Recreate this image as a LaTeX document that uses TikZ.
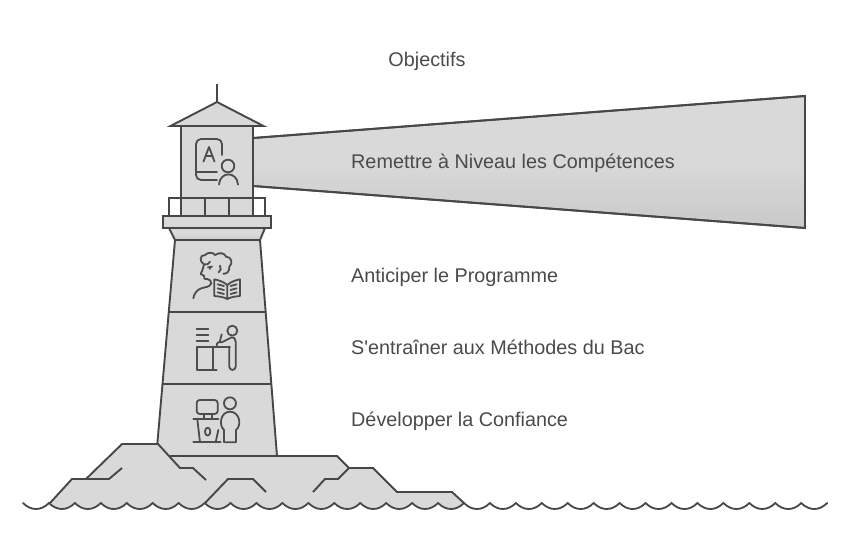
\documentclass[tikz,border=0pt]{standalone}
\usepackage{fontspec}
\newfontfamily\labelfont{Liberation Sans}
\definecolor{ink}{HTML}{474747}
\definecolor{inkb}{HTML}{4D4D4D}
\definecolor{tone}{HTML}{D9D9D9}
\definecolor{tonedark}{HTML}{C9C9C9}
\definecolor{txt}{HTML}{4A4A4A}
\tikzset{
  shape outline/.style={draw=ink,line width=1.9pt,fill=tone,line join=miter},
  shaded outline/.style={draw=ink,line width=1.9pt,top color=tone,bottom color=tonedark,middle color=tone,line join=miter},
  rock line/.style={draw=ink,line width=1.9pt},
  icon line/.style={draw=inkb,line width=1.8pt,line cap=round,line join=round},
  label text/.style={anchor=base west,inner sep=0pt,text=txt,font=\labelfont\fontsize{19.8}{22}\selectfont},
  zoomed/.style={shift={(150,235)},x=0.3333pt,y=-0.3333pt}
}
\begin{document}
\begin{tikzpicture}[x=1pt,y=-1pt]
\useasboundingbox (0,0) rectangle (851,558);
% beam
\path[shaded outline] (253,138) -- (805,96) -- (805,228) -- (253,186) ;
\draw[draw=ink,line width=1.9pt] (253,138) -- (805,96) -- (805,228) -- (253,186);
% rocks
\path[fill=tone] (50,503) -- (72,479) -- (86,479) -- (122,444) -- (158,444) -- (170,456) -- (337,456) -- (349,468) -- (373,468) -- (397,492) -- (452,492) -- (464,503)
  \foreach \i in {16,...,1} { .. controls ({23+25.94*\i+18},{511}) and ({23+25.94*\i+8},{511}) .. ({23+25.94*\i},503) } -- cycle;
% tower
\path[fill=tone] (175,240) -- (260,240) -- (277,456) -- (170,456) -- (157.3,444) -- cycle;
\draw[rock line] (157.3,444) -- (175,240) (260,240) -- (277,456);
\draw[rock line] (169,312) -- (266,312);
\draw[rock line] (163,384) -- (271,384);
\path[shaded outline] (169,228) -- (265,228) -- (260,240) -- (175,240) -- cycle;
\path[shape outline] (163,216) rectangle (271,228);
\draw[rock line,fill=white] (169,198) rectangle (265,216);
\path[shape outline] (181,126) rectangle (253,198);
\path[shape outline] (181,198) rectangle (253,216);
\draw[rock line] (205,198) -- (205,216) (229,198) -- (229,216);
\draw[rock line] (217,84) -- (217,102);
\path[shape outline] (217,102) -- (263.5,126) -- (170.5,126) -- cycle;
% rock lines
\draw[rock line,line join=miter] (50,503) -- (72,479) -- (109,479) -- (122,468);
\draw[rock line,line join=miter] (86,479) -- (122,444) -- (158,444) -- (180,468) -- (193,468) -- (206,480);
\draw[rock line,line join=miter] (170,456) -- (337,456) -- (349,468) -- (373,468) -- (397,492) -- (452,492) -- (464,503);
\draw[rock line,line join=miter] (349,468) -- (338,479) -- (325,479) -- (313,492);
\draw[rock line,line join=miter] (205,503) -- (228,479) -- (253,479) -- (266,492);
% waves
\draw[draw=ink,line width=1.8pt,line cap=round,line join=miter] (23,503)
  \foreach \i in {0,...,30} { .. controls ({23+25.94*\i+8},{511}) and ({23+25.94*\i+18},{511}) .. ({23+25.94*(\i+1)},503) };
% icon A
\draw[icon line] (222,155) -- (222,144) arc[start angle=0,end angle=-90,radius=5] -- (201,139) arc[start angle=-90,end angle=-180,radius=5] -- (196,175) arc[start angle=180,end angle=90,radius=5] -- (217,180);
\draw[icon line] (196,172) -- (217,172);
\draw[icon line] (203.5,161.5) -- (209,147) -- (214.5,161.5) (205.4,156) -- (212.6,156);
\draw[icon line] (228,166) circle[radius=6.3];
\draw[icon line] (219,184.5) .. controls (220,171) and (237,171) .. (238,184.5);
% icon reader
\begin{scope}[zoomed]
\draw[icon line] (130,190) .. controls (135,165) and (150,160) .. (165,157) .. controls (175,155) and (182,152) .. (184,145);
\draw[icon line] (184,145) .. controls (183,138) and (180,133) .. (172,132) .. controls (162,134) and (162,128) .. (162,122) -- (152,117) .. controls (158,105) and (160,97) .. (162,88)
 .. controls (148,80) and (148,60) .. (165,60) .. controls (175,50) and (190,52) .. (195,60) .. controls (210,50) and (225,55) .. (228,65) .. controls (245,65) and (250,85) .. (238,95) .. controls (240,110) and (228,118) .. (220,116);
\draw[icon line] (210,92) .. controls (215,100) and (212,108) .. (206,112);
\draw[icon line] (162,88) .. controls (172,90) and (178,85) .. (180,80);
\fill[inkb] (180,101) circle[radius=3.5];
\draw[icon line] (174,97) -- (186,95);
\draw[icon line] (232,150) .. controls (220,140) and (205,135) .. (193,133) -- (193,183) .. controls (205,184) and (222,186) .. (232,192) .. controls (242,186) and (258,184) .. (270,183) -- (270,133) .. controls (258,135) and (243,140) .. (232,150) -- (232,192);
\draw[icon line] (203,148) -- (222,153) (203,160) -- (222,165) (203,172) -- (222,177);
\draw[icon line] (242,153) -- (260,148) (242,165) -- (260,160) (242,177) -- (260,172);
\end{scope}
% icon desk
\begin{scope}[zoomed]
\draw[icon line] (140,283) -- (175,283) (140,300) -- (175,300) (140,318) -- (175,318);
\draw[icon line] (247,287) circle[radius=15];
\draw[icon line] (200,405) -- (140,405) -- (140,335) -- (240,335) (188,335) -- (188,405);
\draw[icon line] (200,333) .. controls (200,322) and (205,320) .. (215,322) -- (245,307) .. controls (252,305) and (257,312) .. (257,320) -- (257,395) .. controls (257,408) and (238,408) .. (238,395) -- (238,335);
\draw[icon line] (215,298) -- (209,322);
\end{scope}
% icon podium
\begin{scope}[zoomed]
\draw[icon line,rounded corners=3pt] (140,495) rectangle (203,537);
\draw[icon line] (163,537) -- (163,553) (185,537) -- (185,553);
\draw[icon line] (130,553) -- (205,553);
\draw[icon line] (142,553) -- (150,622) (205,585) -- (197,622);
\draw[icon line] (130,622) -- (212,622);
\draw[icon line] (173,590) ellipse[x radius=8,y radius=12];
\draw[icon line] (240,505) circle[radius=18];
\draw[icon line] (222,622) -- (222,585) .. controls (205,570) and (212,530) .. (240,530) .. controls (268,530) and (277,570) .. (258,585) -- (258,622) -- cycle;
\end{scope}
% text
\node[label text,anchor=base] (t0) at (427,66.7) {Objectifs};
\node[label text] (t1) at (351,168.7) {Remettre à Niveau les Compétences};
\node[label text] (t2) at (351,282.7) {Anticiper le Programme};
\node[label text] (t3) at (351,354.7) {S'entraîner aux Méthodes du Bac};
\node[label text] (t4) at (351,426.7) {Développer la Confiance};
\end{tikzpicture}
\end{document}
